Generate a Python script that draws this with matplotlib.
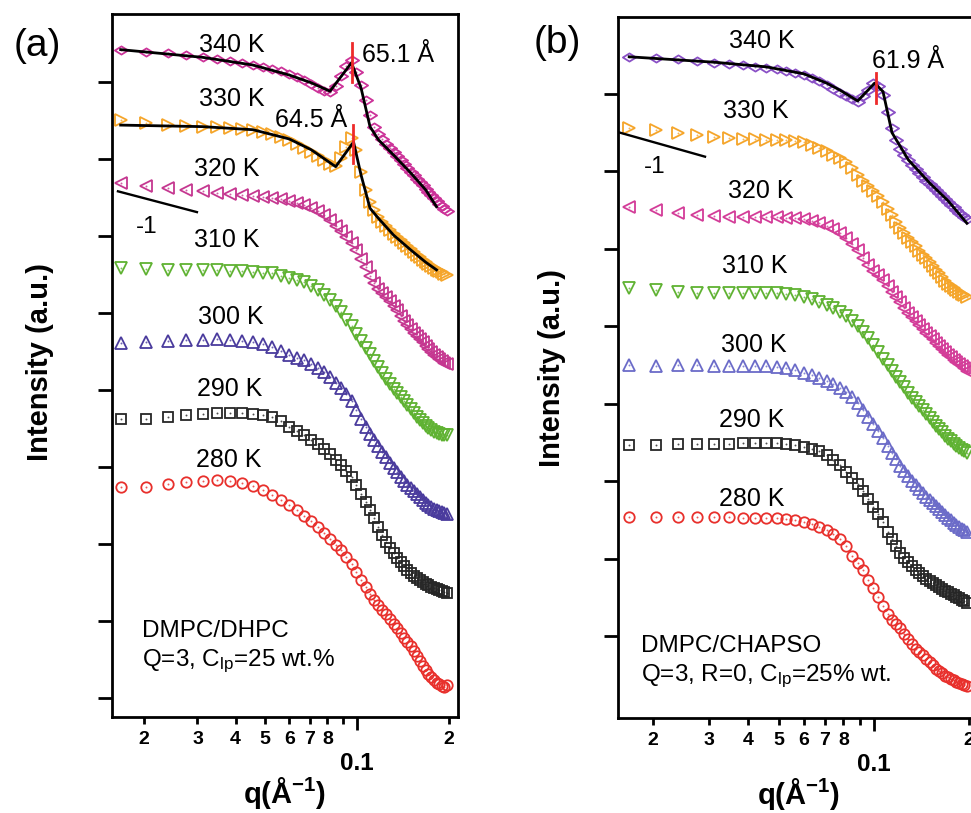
import numpy as np
import matplotlib
matplotlib.use('Agg')
import matplotlib.pyplot as plt
from matplotlib.path import Path
from matplotlib.ticker import FixedLocator, FuncFormatter, NullFormatter

plt.rcParams['font.family'] = ['Liberation Sans', 'DejaVu Sans']
plt.rcParams['mathtext.fontset'] = 'custom'
plt.rcParams['mathtext.rm'] = 'Liberation Sans'
plt.rcParams['mathtext.it'] = 'Liberation Sans:italic'
plt.rcParams['mathtext.bf'] = 'Liberation Sans:bold'

# q values (1/A), same grid for every curve
q = [0.0168, 0.0204, 0.0240, 0.0276, 0.0312, 0.0348, 0.0384, 0.0420, 0.0456, 0.0492,
     0.0528, 0.0564, 0.0600, 0.0636, 0.0672, 0.0708, 0.0744, 0.0780, 0.0816, 0.0852,
     0.0888, 0.0924, 0.0960, 0.0996, 0.1032, 0.1068, 0.1104, 0.1140, 0.1176, 0.1212,
     0.1248, 0.1284, 0.1320, 0.1356, 0.1392, 0.1428, 0.1464, 0.1500, 0.1536, 0.1572,
     0.1608, 0.1644, 0.1680, 0.1716, 0.1752, 0.1788, 0.1824, 0.1860, 0.1896, 0.1932,
     0.1968]

temps = ['340 K', '330 K', '320 K', '310 K', '300 K', '290 K', '280 K']

# panel (a) DMPC/DHPC : log10 intensity, curves shifted for clarity
a340 = [8.42, 8.39, 8.38, 8.35, 8.32, 8.30, 8.27, 8.25, 8.22, 8.19, 8.17, 8.14, 8.10, 8.06, 8.03, 7.97, 7.92,
        7.88, 7.87, 7.95, 8.08, 8.21, 8.29, 8.13, 7.96, 7.77, 7.57, 7.42, 7.32, 7.26, 7.19, 7.14, 7.09, 7.04,
        6.99, 6.94, 6.88, 6.83, 6.79, 6.74, 6.70, 6.66, 6.61, 6.57, 6.53, 6.49, 6.45, 6.42, 6.39, 6.35, 6.32]
a330 = [7.51, 7.47, 7.44, 7.43, 7.42, 7.42, 7.40, 7.39, 7.38, 7.35, 7.32, 7.29, 7.25, 7.19, 7.14, 7.09, 7.04,
        6.99, 6.94, 6.91, 7.01, 7.16, 7.27, 7.12, 6.83, 6.60, 6.44, 6.34, 6.25, 6.18, 6.13, 6.08, 6.03, 5.99,
        5.95, 5.91, 5.87, 5.83, 5.79, 5.75, 5.73, 5.69, 5.66, 5.64, 5.61, 5.58, 5.56, 5.55, 5.53, 5.51, 5.49]
a320 = [6.69, 6.65, 6.62, 6.60, 6.58, 6.56, 6.55, 6.53, 6.52, 6.51, 6.49, 6.48, 6.45, 6.43, 6.40, 6.36, 6.32,
        6.27, 6.21, 6.13, 6.06, 5.99, 5.91, 5.82, 5.70, 5.60, 5.48, 5.39, 5.31, 5.26, 5.21, 5.16, 5.09, 5.04,
        4.96, 4.90, 4.84, 4.79, 4.74, 4.70, 4.66, 4.62, 4.57, 4.53, 4.49, 4.45, 4.43, 4.40, 4.38, 4.35, 4.34]
a310 = [5.58, 5.57, 5.56, 5.56, 5.56, 5.56, 5.55, 5.55, 5.53, 5.52, 5.52, 5.48, 5.45, 5.43, 5.40, 5.35, 5.30,
        5.23, 5.17, 5.09, 5.01, 4.91, 4.83, 4.73, 4.64, 4.55, 4.47, 4.38, 4.30, 4.22, 4.14, 4.08, 4.01, 3.96,
        3.91, 3.86, 3.81, 3.75, 3.70, 3.65, 3.61, 3.57, 3.53, 3.51, 3.48, 3.45, 3.44, 3.43, 3.42, 3.42, 3.42]
a300 = [4.61, 4.62, 4.64, 4.65, 4.65, 4.66, 4.65, 4.64, 4.62, 4.60, 4.56, 4.51, 4.45, 4.42, 4.39, 4.34, 4.29,
        4.23, 4.17, 4.09, 4.03, 3.95, 3.86, 3.74, 3.62, 3.52, 3.43, 3.35, 3.27, 3.19, 3.13, 3.05, 2.99, 2.94,
        2.87, 2.82, 2.77, 2.73, 2.69, 2.65, 2.61, 2.57, 2.53, 2.51, 2.48, 2.45, 2.44, 2.43, 2.42, 2.40, 2.39]
a290 = [3.62, 3.62, 3.65, 3.68, 3.69, 3.70, 3.70, 3.70, 3.69, 3.68, 3.65, 3.60, 3.52, 3.47, 3.42, 3.35, 3.30,
        3.23, 3.17, 3.09, 3.03, 2.95, 2.87, 2.77, 2.65, 2.55, 2.44, 2.34, 2.22, 2.12, 2.03, 1.95, 1.88, 1.82,
        1.77, 1.71, 1.66, 1.62, 1.58, 1.56, 1.53, 1.51, 1.48, 1.47, 1.44, 1.43, 1.42, 1.40, 1.39, 1.38, 1.36]
a280 = [2.74, 2.74, 2.78, 2.81, 2.82, 2.83, 2.82, 2.79, 2.75, 2.70, 2.64, 2.57, 2.51, 2.44, 2.36, 2.30, 2.22,
        2.14, 2.06, 1.99, 1.92, 1.83, 1.74, 1.64, 1.53, 1.44, 1.35, 1.27, 1.21, 1.14, 1.09, 1.03, 0.96, 0.91,
        0.84, 0.78, 0.73, 0.68, 0.61, 0.55, 0.48, 0.42, 0.36, 0.31, 0.27, 0.23, 0.19, 0.18, 0.16, 0.14, 0.17]

# panel (b) DMPC/CHAPSO
b340 = [7.48, 7.46, 7.45, 7.43, 7.40, 7.39, 7.37, 7.35, 7.34, 7.32, 7.30, 7.27, 7.25, 7.21, 7.17, 7.12, 7.06,
        7.01, 6.97, 6.94, 6.90, 6.97, 7.05, 7.14, 7.10, 6.99, 6.77, 6.56, 6.41, 6.29, 6.21, 6.15, 6.08, 6.03,
        5.98, 5.93, 5.88, 5.84, 5.80, 5.76, 5.72, 5.68, 5.64, 5.61, 5.57, 5.54, 5.50, 5.46, 5.44, 5.41, 5.39]
b330 = [6.56, 6.53, 6.50, 6.47, 6.44, 6.43, 6.42, 6.42, 6.41, 6.41, 6.41, 6.39, 6.38, 6.34, 6.30, 6.26, 6.21,
        6.17, 6.12, 6.04, 5.95, 5.88, 5.81, 5.75, 5.68, 5.61, 5.51, 5.44, 5.35, 5.27, 5.20, 5.14, 5.09, 5.04,
        4.97, 4.92, 4.88, 4.83, 4.78, 4.73, 4.69, 4.64, 4.58, 4.55, 4.52, 4.49, 4.47, 4.44, 4.42, 4.40, 4.38]
b320 = [5.54, 5.50, 5.46, 5.44, 5.42, 5.41, 5.41, 5.41, 5.41, 5.41, 5.40, 5.40, 5.39, 5.36, 5.33, 5.30, 5.26,
        5.20, 5.14, 5.06, 4.99, 4.88, 4.79, 4.71, 4.66, 4.60, 4.52, 4.44, 4.38, 4.31, 4.24, 4.17, 4.12, 4.07,
        4.02, 3.96, 3.91, 3.87, 3.84, 3.78, 3.75, 3.71, 3.67, 3.63, 3.60, 3.56, 3.54, 3.51, 3.49, 3.46, 3.42]
b310 = [4.49, 4.47, 4.44, 4.43, 4.43, 4.43, 4.43, 4.43, 4.43, 4.43, 4.42, 4.40, 4.38, 4.35, 4.31, 4.27, 4.24,
        4.18, 4.13, 4.07, 4.00, 3.93, 3.85, 3.76, 3.67, 3.58, 3.50, 3.42, 3.35, 3.28, 3.22, 3.14, 3.07, 3.02,
        2.97, 2.92, 2.87, 2.82, 2.76, 2.71, 2.67, 2.63, 2.58, 2.54, 2.52, 2.48, 2.45, 2.43, 2.40, 2.39, 2.36]
b300 = [3.50, 3.49, 3.50, 3.50, 3.49, 3.49, 3.49, 3.49, 3.49, 3.47, 3.46, 3.44, 3.40, 3.37, 3.33, 3.29, 3.25,
        3.20, 3.15, 3.09, 3.01, 2.92, 2.83, 2.74, 2.65, 2.56, 2.45, 2.36, 2.29, 2.20, 2.13, 2.07, 2.00, 1.95,
        1.90, 1.85, 1.80, 1.76, 1.72, 1.68, 1.64, 1.60, 1.56, 1.52, 1.50, 1.46, 1.43, 1.41, 1.38, 1.37, 1.34]
b290 = [2.47, 2.47, 2.48, 2.48, 2.48, 2.48, 2.49, 2.49, 2.49, 2.49, 2.48, 2.47, 2.44, 2.42, 2.39, 2.34, 2.27,
        2.21, 2.12, 2.04, 1.96, 1.87, 1.77, 1.67, 1.58, 1.47, 1.34, 1.25, 1.16, 1.07, 1.01, 0.96, 0.90, 0.85,
        0.81, 0.77, 0.74, 0.71, 0.68, 0.66, 0.63, 0.61, 0.58, 0.57, 0.54, 0.53, 0.50, 0.49, 0.46, 0.45, 0.43]
b280 = [1.54, 1.54, 1.54, 1.54, 1.54, 1.54, 1.52, 1.52, 1.52, 1.52, 1.51, 1.50, 1.47, 1.45, 1.41, 1.37, 1.32,
        1.25, 1.16, 1.03, 0.94, 0.85, 0.72, 0.62, 0.50, 0.39, 0.28, 0.21, 0.15, 0.10, 0.03, -0.04, -0.10, -0.17,
        -0.21, -0.25, -0.30, -0.34, -0.37, -0.43, -0.45, -0.48, -0.52, -0.53, -0.56, -0.57, -0.59, -0.61,
        -0.62, -0.63, -0.65]

# model fits (black lines)
fit_q_a340 = [0.0168, 0.0312, 0.0456, 0.0600, 0.0708, 0.0816, 0.0960, 0.1032, 0.1104, 0.1176, 0.1320, 0.1500, 0.1680, 0.1824]
fit_a340 = [8.42, 8.32, 8.22, 8.09, 7.99, 7.88, 8.25, 7.92, 7.42, 7.25, 7.05, 6.82, 6.60, 6.38]
fit_q_a330 = [0.0168, 0.0312, 0.0456, 0.0600, 0.0708, 0.0852, 0.0975, 0.1032, 0.1104, 0.1176, 0.1320, 0.1500, 0.1680, 0.1824]
fit_a330 = [7.44, 7.42, 7.38, 7.26, 7.12, 6.90, 7.22, 6.79, 6.36, 6.23, 6.01, 5.82, 5.66, 5.56]
fit_q_b340 = [0.0168, 0.0312, 0.0456, 0.0600, 0.0708, 0.0780, 0.0888, 0.1005, 0.1068, 0.1140, 0.1284, 0.1500, 0.1716, 0.1968]
fit_b340 = [7.48, 7.41, 7.35, 7.26, 7.14, 7.05, 6.91, 7.14, 7.03, 6.50, 6.15, 5.85, 5.62, 5.33]

# Bragg spacings (A) marked by red bars
d_a = [65.1, 64.5]
d_b = [61.9]

wide_diamond = Path([(-1, 0), (0, 0.62), (1, 0), (0, -0.62), (-1, 0)], closed=True)
markers = [wide_diamond, '>', '<', 'v', '^', 's', 'o']
msizes = [9.5, 8.5, 8.5, 8.5, 8.5, 7, 7.5]
colors_a = ['#cc3399', '#f5a52a', '#c53790', '#5fb232', '#4a3b9d', '#262626', '#e8302c']
colors_b = ['#8a50c6', '#f5a52a', '#d33c98', '#5fb232', '#6b6bc8', '#262626', '#e8302c']

fig = plt.figure(figsize=(9.71, 8.13), dpi=100)
ax_a = fig.add_axes([0.1153, 0.1181, 0.3563, 0.8647])
ax_b = fig.add_axes([0.6365, 0.1169, 0.3718, 0.8622])


def minor_label(v, pos):
    d = int(round(v / 10 ** np.floor(np.log10(v))))
    return '' if d == 9 else str(d)


def style_axis(ax, xlim, ylim, nticks, ylab_xy):
    ax.set_xscale('log')
    ax.set_xlim(*xlim)
    ax.set_ylim(*ylim)
    ax.xaxis.set_major_locator(FixedLocator([0.1]))
    ax.xaxis.set_major_formatter(FuncFormatter(lambda v, p: '0.1'))
    ax.xaxis.set_minor_locator(FixedLocator([0.02, 0.03, 0.04, 0.05, 0.06, 0.07, 0.08, 0.09, 0.2]))
    ax.xaxis.set_minor_formatter(FuncFormatter(minor_label))
    ax.tick_params(axis='x', which='major', length=9, width=2, pad=16, labelsize=17.5)
    ax.tick_params(axis='x', which='minor', length=5, width=2, pad=5, labelsize=14)
    ax.set_yticks(range(nticks))
    ax.yaxis.set_major_formatter(NullFormatter())
    ax.tick_params(axis='y', which='both', length=10, width=2)
    ax.tick_params(top=False, right=False)
    for s in ax.spines.values():
        s.set_linewidth(2)
    for lab in ax.xaxis.get_majorticklabels() + ax.xaxis.get_minorticklabels():
        lab.set_fontweight('bold')
    ax.set_xlabel(r'q(Å$^{\mathbf{-1}}$)', fontsize=21, fontweight='bold')
    ax.xaxis.set_label_coords(0.5, -0.108)
    ax.xaxis.label.set_verticalalignment('center')
    ax.set_ylabel('Intensity (a.u.)', fontsize=21, fontweight='bold')
    ax.yaxis.set_label_coords(*ylab_xy)
    ax.yaxis.label.set_verticalalignment('center')


def draw_curves(ax, curves, colors):
    for y, m, ms, c in zip(curves, markers, msizes, colors):
        ax.plot(q, y, ls='none', marker=m, ms=ms, mfc='none', mec=c, mew=1.3)
        ax.plot(q, y, ls='none', marker='o', ms=1.4, color=c, mew=0, alpha=0.8)


# ---- panel (a)
draw_curves(ax_a, [a340, a330, a320, a310, a300, a290, a280], colors_a)
ax_a.plot(fit_q_a340, fit_a340, color='k', lw=2.0, zorder=5)
ax_a.plot(fit_q_a330, fit_a330, color='k', lw=2.0, zorder=5)
for d, (y0, y1) in zip(d_a, [(8.00, 8.51), (6.95, 7.44)]):
    ax_a.plot([2 * np.pi / d] * 2, [y0, y1], color='#ee2a2a', lw=2, zorder=6)
ax_a.plot([0.01646, 0.02988], [6.58, 6.31], color='k', lw=1.7)
ax_a.text(0.0205, 6.04, '-1', fontsize=17.5, ha='center', va='baseline')
for t, xq, yb in zip(temps, [0.0389, 0.0389, 0.0375, 0.0375, 0.0386, 0.0383, 0.0380],
                     [8.39, 7.69, 6.78, 5.86, 4.86, 3.92, 3.00]):
    ax_a.text(xq, yb, t, fontsize=18, ha='center', va='baseline')
ax_a.text(0.1038, 8.26, '%.1f Å' % d_a[0], fontsize=18, ha='left', va='baseline')
ax_a.text(0.0538, 7.42, '%.1f Å' % d_a[1], fontsize=18, ha='left', va='baseline')
ax_a.text(0.0197, 0.79, 'DMPC/DHPC', fontsize=17.5, ha='left', va='baseline')
ax_a.text(0.0197, 0.42, r'Q=3, C$_{\rm lp}$=25 wt.%', fontsize=17.5, ha='left', va='baseline')
style_axis(ax_a, (0.01573, 0.2144), (-0.247, 8.883), 9, (-0.208, 0.505))

# ---- panel (b)
draw_curves(ax_b, [b340, b330, b320, b310, b300, b290, b280], colors_b)
ax_b.plot(fit_q_b340, fit_b340, color='k', lw=2.0, zorder=5)
ax_b.plot([2 * np.pi / d_b[0]] * 2, [6.88, 7.27], color='#ee2a2a', lw=2, zorder=6)
ax_b.plot([0.01571, 0.02919], [6.50, 6.19], color='k', lw=1.7)
ax_b.text(0.0203, 5.98, '-1', fontsize=17.5, ha='center', va='baseline')
for t, xq, yb in zip(temps, [0.0442, 0.0423, 0.0439, 0.0420, 0.0417, 0.0411, 0.0411],
                     [7.59, 6.69, 5.66, 4.69, 3.67, 2.70, 1.68]):
    ax_b.text(xq, yb, t, fontsize=18, ha='center', va='baseline')
ax_b.text(0.0985, 7.34, '%.1f Å' % d_b[0], fontsize=18, ha='left', va='baseline')
ax_b.text(0.0183, -0.21, 'DMPC/CHAPSO', fontsize=17.5, ha='left', va='baseline')
ax_b.text(0.0183, -0.58, r'Q=3, R=0, C$_{\rm lp}$=25% wt.', fontsize=17.5, ha='left', va='baseline')
style_axis(ax_b, (0.01549, 0.215), (-1.059, 7.994), 8, (-0.183, 0.499))

fig.text(37 / 971, 1 - 46 / 813, '(a)', fontsize=28, ha='center', va='center')
fig.text(557 / 971, 1 - 43 / 813, '(b)', fontsize=28, ha='center', va='center')

fig.savefig('out.png', dpi=100)
